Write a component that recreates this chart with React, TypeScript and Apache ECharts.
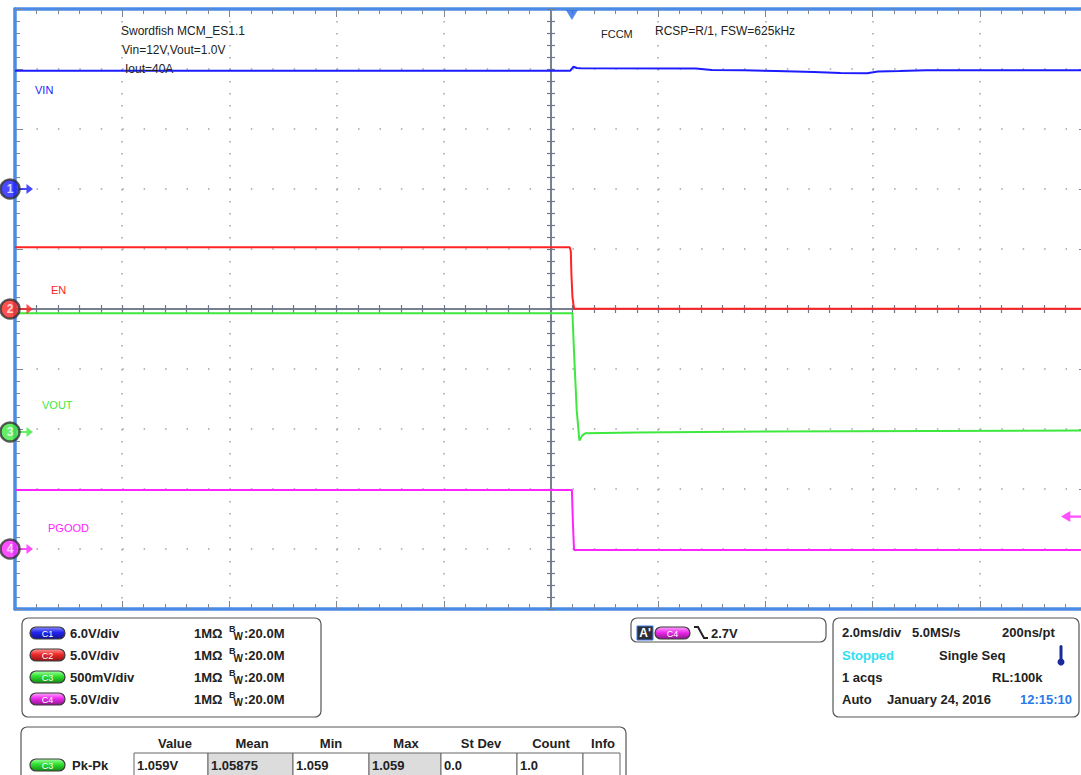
import React, { useEffect, useRef } from 'react';
import * as echarts from 'echarts';

// ---- channel setup ----
const CHANNELS = ['VIN', 'EN', 'VOUT', 'PGOOD'];
const CHANNEL_COLORS = ['#1c1cff', '#ff2424', '#3ee83e', '#ff24ff'];
const VOLTS_PER_DIV = [6, 5, 0.5, 5];
const GROUND_DIV = [2, 0, -2.05, -4];
const SCALE_LABELS = ['6.0V/div', '5.0V/div', '500mV/div', '5.0V/div'];

// time axis (ms), 2 ms/div, 10 divisions
const X_MIN = -10;
const X_MAX = 10;
const MS_PER_DIV = 2;
const TRIGGER_T = 0.39;
const TRIGGER_LEVEL = 2.7; // V on C4

// ---- traces (time ms, volts) ----
const VIN_T = [-10, 0.36, 0.42, 0.48, 0.55, 2.7, 3.0, 3.6, 4.2, 4.9, 5.4, 5.9, 6.1, 6.5, 7.0, 10];
const VIN_V = [11.83, 11.83, 12.23, 12.1, 12.07, 12.05, 11.9, 11.87, 11.8, 11.7, 11.6, 11.57, 11.75, 11.8, 11.87, 11.87];

const EN_T = [-10, 0.35, 0.37, 0.38, 0.4, 0.43, 10];
const EN_V = [5.15, 5.15, 4.8, 3.0, 1.0, 0.02, 0.02];

const VOUT_T = [-10, 0.4, 0.43, 0.48, 0.53, 0.58, 0.64, 1.6, 4.0, 10];
const VOUT_V = [0.99, 0.99, 0.66, 0.18, -0.072, -0.03, -0.01, -0.005, 0.005, 0.013];

const PGOOD_T = [-10, 0.39, 0.41, 0.43, 10];
const PGOOD_V = [4.92, 4.92, 2.0, -0.08, -0.08];

const TRACES = [
  [VIN_T, VIN_V],
  [EN_T, EN_V],
  [VOUT_T, VOUT_V],
  [PGOOD_T, PGOOD_V],
];

// ---- info panel texts ----
const MEAS_HEADERS = ['Value', 'Mean', 'Min', 'Max', 'St Dev', 'Count', 'Info'];
const MEAS_VALUES = ['1.059V', '1.05875', '1.059', '1.059', '0.0', '1.0', ''];
const MEAS_NAME = 'Pk-Pk';

const FONT = '"Liberation Sans", Arial, Helvetica, sans-serif';
const FRAME = '#4b8be6';
const TICK = '#7f8696';
const DOT = '#9da2ac';
const CENTER = '#6f788a';

const PILL_COLORS = [
  ['#8c8cff', '#2424f0', '#12128e'],
  ['#ff9a9a', '#ee2a2a', '#8e1414'],
  ['#a6ffa6', '#2ee02e', '#178a17'],
  ['#ffa6ff', '#ee2aee', '#8a178a'],
];

function pill(x: number, y: number, idx: number, label: string) {
  const c = PILL_COLORS[idx];
  return [
    {
      type: 'rect',
      shape: { x, y, width: 35, height: 12, r: 6 },
      style: {
        fill: new echarts.graphic.LinearGradient(0, 0, 0, 1, [
          { offset: 0, color: c[0] },
          { offset: 0.45, color: c[1] },
          { offset: 1, color: c[2] },
        ]),
        stroke: '#3a3a3a',
        lineWidth: 1.2,
      },
      z: 100,
    },
    {
      type: 'text',
      x: x + 17.5,
      y: y + 6.5,
      style: {
        text: label,
        fill: '#ffffff',
        font: `9px ${FONT}`,
        align: 'center',
        verticalAlign: 'middle',
        textAlign: 'center',
        textVerticalAlign: 'middle',
      },
      z: 101,
    },
  ];
}

function txt(x: number, y: number, text: string, opts: any = {}) {
  const align = opts.align || 'left';
  return {
    type: 'text',
    x,
    y,
    style: {
      text,
      fill: opts.fill || '#222222',
      font: `${opts.weight || 'normal'} ${opts.size || 12}px ${FONT}`,
      align,
      verticalAlign: 'middle',
      textAlign: align,
      textVerticalAlign: 'middle',
    },
    z: 100,
  };
}

const B = { weight: 'bold', size: 13 };

function buildGraphics() {
  const els: any[] = [];
  // plot annotations
  els.push(txt(121, 31, 'Swordfish MCM_ES1.1'));
  els.push(txt(122, 50, 'Vin=12V,Vout=1.0V'));
  els.push(txt(125, 69, 'Iout=40A'));
  els.push(txt(601, 34, 'FCCM', { size: 11 }));
  els.push(txt(655, 31, 'RCSP=R/1, FSW=625kHz'));
  const labelPos = [
    [35, 90],
    [51, 290],
    [42, 405],
    [48, 528],
  ];
  CHANNELS.forEach((name, i) => {
    els.push(txt(labelPos[i][0], labelPos[i][1], name, { fill: CHANNEL_COLORS[i], size: 11 }));
  });

  // channel panel
  els.push({
    type: 'rect',
    shape: { x: 22, y: 618, width: 299, height: 99, r: 6 },
    style: { fill: '#ffffff', stroke: '#555555', lineWidth: 1.2 },
    z: 90,
  });
  const rows = [633, 655, 677, 699];
  rows.forEach((ry, i) => {
    els.push(...pill(30, ry - 6, i, 'C' + (i + 1)));
    els.push(txt(70, ry, SCALE_LABELS[i], B));
    els.push(txt(194, ry, '1MΩ', B));
    els.push(txt(229, ry - 4, 'B', { weight: 'bold', size: 9 }));
    els.push(txt(233.5, ry + 3, 'W', { weight: 'bold', size: 10 }));
    els.push(txt(244, ry, ':20.0M', B));
  });

  // trigger panel
  els.push({
    type: 'rect',
    shape: { x: 631, y: 618, width: 195, height: 24, r: 6 },
    style: { fill: '#ffffff', stroke: '#555555', lineWidth: 1.2 },
    z: 90,
  });
  els.push({
    type: 'rect',
    shape: { x: 637, y: 626, width: 16, height: 14 },
    style: { fill: '#2e2e36', stroke: '#3a7ae0', lineWidth: 1 },
    z: 100,
  });
  els.push(txt(645, 633, "A'", { fill: '#ffffff', weight: 'bold', size: 12, align: 'center' }));
  els.push(...pill(655, 627, 3, 'C4'));
  els.push({
    type: 'polyline',
    shape: { points: [[694, 627], [698, 627], [704, 638], [708, 638]] },
    style: { stroke: '#222222', lineWidth: 2, fill: 'none' },
    z: 100,
  });
  els.push(txt(711, 633, TRIGGER_LEVEL.toFixed(1) + 'V', B));

  // timebase panel
  els.push({
    type: 'rect',
    shape: { x: 833, y: 618, width: 246, height: 99, r: 6 },
    style: { fill: '#ffffff', stroke: '#555555', lineWidth: 1.2 },
    z: 90,
  });
  els.push(txt(842, 632, '2.0ms/div', B));
  els.push(txt(912, 632, '5.0MS/s', B));
  els.push(txt(1002, 632, '200ns/pt', B));
  els.push(txt(842, 655, 'Stopped', { ...B, fill: '#30e0f0' }));
  els.push(txt(939, 655, 'Single Seq', B));
  els.push({
    type: 'rect',
    shape: { x: 1059.5, y: 645, width: 3, height: 16, r: 1.5 },
    style: { fill: '#1a2a9a' },
    z: 100,
  });
  els.push({
    type: 'circle',
    shape: { cx: 1061, cy: 662, r: 3.5 },
    style: { fill: '#1a2a9a' },
    z: 100,
  });
  els.push(txt(842, 677, '1 acqs', B));
  els.push(txt(992, 677, 'RL:100k', B));
  els.push(txt(842, 699, 'Auto', B));
  els.push(txt(887, 699, 'January 24, 2016', B));
  els.push(txt(1020, 699, '12:15:10', { ...B, fill: '#2a7ae8' }));

  // measurement panel
  els.push({
    type: 'rect',
    shape: { x: 21, y: 727, width: 605, height: 60, r: 6 },
    style: { fill: '#ffffff', stroke: '#555555', lineWidth: 1.2 },
    z: 90,
  });
  const headerX = [175, 252, 331, 406, 481, 551, 603];
  MEAS_HEADERS.forEach((h, i) => {
    els.push(txt(headerX[i], 743, h, { ...B, align: 'center' }));
  });
  const cellX = [134, 208, 293, 369, 441, 517, 583, 620];
  const gray = [false, true, false, true, false, false, false];
  for (let i = 0; i < 7; i++) {
    els.push({
      type: 'rect',
      shape: { x: cellX[i], y: 753, width: cellX[i + 1] - cellX[i], height: 24 },
      style: { fill: gray[i] ? '#dcdcdc' : '#ffffff', stroke: '#666666', lineWidth: 1 },
      z: 95,
    });
    if (MEAS_VALUES[i]) els.push(txt(cellX[i] + 3, 765, MEAS_VALUES[i], B));
  }
  els.push(...pill(30, 759, 2, 'C3'));
  els.push(txt(72, 765, MEAS_NAME, B));
  return els;
}

function buildOption() {
  const frameX = (position: string, split: boolean) => ({
    type: 'value',
    min: X_MIN,
    max: X_MAX,
    interval: MS_PER_DIV,
    position,
    axisLine: { show: true, onZero: false, lineStyle: { color: FRAME, width: 3.5 } },
    axisTick: { show: true, inside: true, length: 8, lineStyle: { color: TICK, width: 1 } },
    minorTick: { show: true, splitNumber: 5, length: 5, lineStyle: { color: TICK, width: 1 } },
    axisLabel: { show: false },
    splitLine: { show: split, lineStyle: { color: DOT, width: 1.5, type: [1.5, 10.5] } },
    minorSplitLine: { show: false },
  });
  const centerX = (inside: boolean) => ({
    type: 'value',
    min: X_MIN,
    max: X_MAX,
    interval: MS_PER_DIV,
    position: 'bottom',
    axisLine: { show: true, onZero: true, onZeroAxisIndex: 0, lineStyle: { color: CENTER, width: 1.5 } },
    axisTick: { show: true, inside, length: 4, lineStyle: { color: CENTER, width: 1.2 } },
    minorTick: { show: true, splitNumber: 5, length: 4, lineStyle: { color: CENTER, width: 1.2 } },
    axisLabel: { show: false },
    splitLine: { show: false },
  });
  const frameY = (position: string, line: boolean, split: boolean) => ({
    type: 'value',
    min: -5,
    max: 5,
    interval: 1,
    position,
    axisLine: { show: line, onZero: false, lineStyle: { color: FRAME, width: 3.5 } },
    axisTick: { show: true, inside: true, length: 8, lineStyle: { color: TICK, width: 1 } },
    minorTick: { show: true, splitNumber: 5, length: 5, lineStyle: { color: TICK, width: 1 } },
    axisLabel: { show: false },
    splitLine: { show: split, lineStyle: { color: DOT, width: 1.5, type: [1.5, 19.94] } },
    minorSplitLine: { show: false },
  });
  const centerY = (inside: boolean) => ({
    type: 'value',
    min: -5,
    max: 5,
    interval: 1,
    position: 'left',
    axisLine: { show: true, onZero: true, onZeroAxisIndex: 0, lineStyle: { color: CENTER, width: 1.5 } },
    axisTick: { show: true, inside, length: 4, lineStyle: { color: CENTER, width: 1.2 } },
    minorTick: { show: true, splitNumber: 5, length: 4, lineStyle: { color: CENTER, width: 1.2 } },
    axisLabel: { show: false },
    splitLine: { show: false },
  });
  const channelY = CHANNELS.map((_, i) => ({
    type: 'value',
    show: false,
    min: (-5 - GROUND_DIV[i]) * VOLTS_PER_DIV[i],
    max: (5 - GROUND_DIV[i]) * VOLTS_PER_DIV[i],
    axisLine: { onZero: false },
    splitLine: { show: false },
  }));

  const series: any[] = [];
  TRACES.forEach(([t, v], i) => {
    series.push({
      type: 'line',
      name: CHANNELS[i],
      xAxisIndex: 0,
      yAxisIndex: 4 + i,
      data: t.map((x, k) => [x, v[k]]),
      symbol: 'none',
      showSymbol: false,
      lineStyle: { color: CHANNEL_COLORS[i], width: 2 },
      silent: true,
      z: 5,
    });
  });
  // channel ground markers
  CHANNELS.forEach((_, i) => {
    series.push({
      type: 'scatter',
      xAxisIndex: 0,
      yAxisIndex: 4 + i,
      data: [[X_MIN, 0]],
      symbol: 'path://M0,4 L8,4 L8,0 L15,5 L8,10 L8,6 L0,6 Z',
      symbolSize: [14, 10],
      symbolOffset: [11, 0],
      itemStyle: { color: CHANNEL_COLORS[i] },
      clip: false,
      silent: true,
      z: 9,
    });
    series.push({
      type: 'scatter',
      xAxisIndex: 0,
      yAxisIndex: 4 + i,
      data: [[X_MIN, 0]],
      symbol: 'circle',
      symbolSize: 19,
      symbolOffset: [-5, 0],
      itemStyle: { color: CHANNEL_COLORS[i], borderColor: '#333333', borderWidth: 2.5 },
      label: {
        show: true,
        position: 'inside',
        formatter: String(i + 1),
        color: '#ffffff',
        fontSize: 12,
        fontWeight: 'bold',
        fontFamily: FONT,
      },
      clip: false,
      silent: true,
      z: 10,
    });
  });
  // trigger position marker (top)
  series.push({
    type: 'scatter',
    xAxisIndex: 0,
    yAxisIndex: 0,
    data: [[TRIGGER_T, 5]],
    symbol: 'triangle',
    symbolRotate: 180,
    symbolSize: [12, 10],
    symbolOffset: [0, 6],
    itemStyle: { color: '#2a6ae8' },
    clip: false,
    silent: true,
    z: 10,
  });
  // trigger level marker (right, on C4)
  series.push({
    type: 'scatter',
    xAxisIndex: 0,
    yAxisIndex: 7,
    data: [[X_MAX, TRIGGER_LEVEL]],
    symbol: 'path://M15,4 L7,4 L7,0 L0,5 L7,10 L7,6 L15,6 Z',
    symbolSize: [20, 11],
    symbolOffset: [-16, 0],
    itemStyle: { color: CHANNEL_COLORS[3] },
    clip: false,
    silent: true,
    z: 10,
  });

  return {
    animation: false,
    backgroundColor: '#ffffff',
    grid: {
      left: 15,
      top: 9,
      width: 1072,
      height: 600,
      containLabel: false,
      outerBoundsMode: 'none',
    },
    xAxis: [frameX('bottom', true), frameX('top', false), centerX(true), centerX(false)],
    yAxis: [
      frameY('left', true, true),
      frameY('right', false, false),
      centerY(true),
      centerY(false),
      ...channelY,
    ],
    series,
    graphic: { elements: buildGraphics() },
  };
}

export default function App() {
  const ref = useRef<HTMLDivElement>(null);
  useEffect(() => {
    if (!ref.current) return;
    const chart = echarts.init(ref.current, undefined, { renderer: 'svg' });
    chart.setOption(buildOption() as any);
    return () => chart.dispose();
  }, []);
  return (
    <div
      ref={ref}
      style={{ position: 'fixed', left: 0, top: 0, width: 1081, height: 775, background: '#ffffff' }}
    />
  );
}
